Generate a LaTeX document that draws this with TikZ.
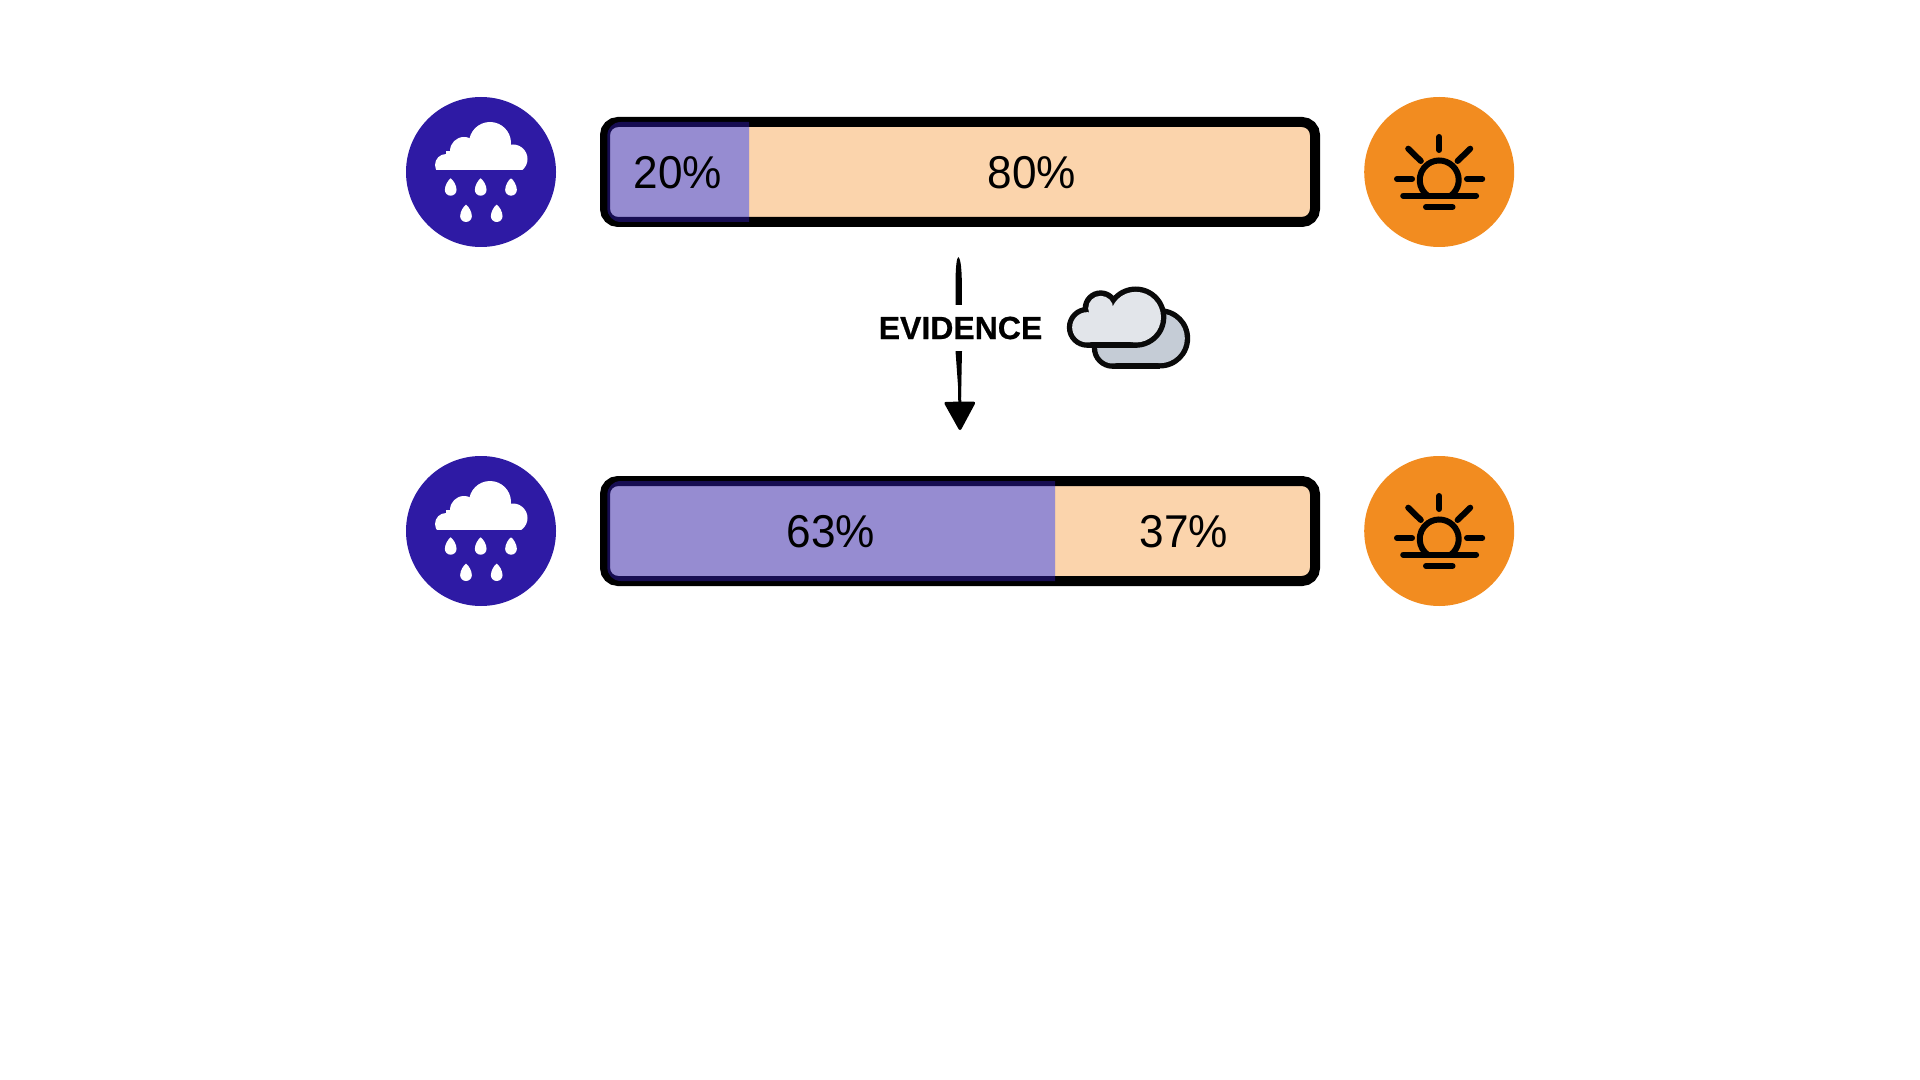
\documentclass[tikz,border=0pt]{standalone}
\usepackage{fontspec}
\setmainfont{Liberation Sans}
\newfontfamily\pctfont[FakeStretch=0.96]{Liberation Sans}
\newfontfamily\evfont[UprightFont=* Bold,FakeBold=0.6]{Liberation Sans}
\usetikzlibrary{arrows.meta}
\definecolor{rainblue}{HTML}{2E1AA4}
\definecolor{sunorange}{HTML}{F28C20}
\definecolor{barpeach}{HTML}{FBD4AC}
\definecolor{cloudfront}{HTML}{E2E5EA}
\definecolor{cloudback}{HTML}{C5CCD6}
\definecolor{cloudline}{HTML}{0A0A0A}
\newcommand{\rdrop}[2]{\fill[white,shift={(#1,#2)}] (0,-8.7) .. controls (2.6,-7) and (5.85,-1.5) .. (5.85,2.9) .. controls (5.85,6.1) and (3.2,8.7) .. (0,8.7) .. controls (-3.2,8.7) and (-5.85,6.1) .. (-5.85,2.9) .. controls (-5.85,-1.5) and (-2.6,-7) .. (0,-8.7) -- cycle;}
\tikzset{
  x=0.5pt,y=-0.5pt,
  badge/.style={circle,minimum size=75pt,inner sep=0pt,draw=none},
  rainbadge/.style={badge,fill=rainblue},
  sunbadge/.style={badge,fill=sunorange},
  barframe/.style={draw=black,line width=5pt,rounded corners=6.5pt},
  purpleseg/.style={fill=rainblue,fill opacity=0.5},
  peachseg/.style={fill=barpeach},
  pct/.style={font=\pctfont\fontsize{23}{28}\selectfont,text=black,inner sep=0pt},
  sunline/.style={draw=black,line width=3pt,line cap=round},
  rainicon/.pic={
    \begin{scope}
      \clip (-60,-60) rectangle (60,-2);
      \fill[white] (-35,-7) circle[radius=11];
      \fill[white] (-17,-21) circle[radius=14];
      \fill[white] (9,-29) circle[radius=21];
      \fill[white] (32,-13) circle[radius=14.5];
      \fill[white] (-35,-21) rectangle (32,0);
    \end{scope}
    \rdrop{-30.3}{15}\rdrop{-0.3}{15}\rdrop{30}{15}\rdrop{-15}{41.3}\rdrop{15.7}{41.3}
  },
  sunicon/.pic={
    \draw[sunline,line cap=butt] (0,8) ++(55:19.5) arc[start angle=55,end angle=-235,radius=19.5];
    \draw[sunline] (0,-35) -- (0,-22);
    \draw[sunline] (-31,-23.3) -- (-18.4,-11);
    \draw[sunline] (31,-23.3) -- (18.4,-11);
    \draw[sunline] (-42.2,7) -- (-27.2,7);
    \draw[sunline] (27.8,7) -- (43,7);
    \draw[sunline] (-36,23.7) -- (36.9,23.7);
    \draw[sunline] (-13.2,35) -- (13.3,35);
  },
}
\begin{document}
\begin{tikzpicture}
\useasboundingbox (0,0) rectangle (1920,1080);
\fill[white] (0,0) rectangle (1920,1080);

% top row
\node[rainbadge] (rainA) at (481,172) {};
\pic at (rainA.center) {rainicon};
\node[sunbadge] (sunA) at (1439.2,172) {};
\pic at (sunA.center) {sunicon};
\fill[peachseg] (749,122) rectangle (1315,222);
\fill[white] (605,122) rectangle (749,222);
\node[barframe,minimum width=355pt,minimum height=50pt,inner sep=0pt] (barA) at (960,172) {};
\fill[purpleseg] (749,122) -- (621,122) .. controls (613,122) and (607.3,128) .. (607.3,136) -- (607.3,208) .. controls (607.3,216) and (613,222) .. (621,222) -- (749,222) -- cycle;
\node[pct] (pctA) at (678,172.5) {20\%};
\node[pct] (pctB) at (1032,172.5) {80\%};

% bottom row
\node[rainbadge] (rainB) at (481,531) {};
\pic at (rainB.center) {rainicon};
\node[sunbadge] (sunB) at (1439.2,531) {};
\pic at (sunB.center) {sunicon};
\fill[peachseg] (1055,481) rectangle (1315,581);
\fill[white] (605,481) rectangle (1055,581);
\node[barframe,minimum width=355pt,minimum height=50pt,inner sep=0pt] (barB) at (960,531) {};
\fill[purpleseg] (1055,481) -- (621,481) .. controls (613,481) and (607.3,487) .. (607.3,495) -- (607.3,567) .. controls (607.3,575) and (613,581) .. (621,581) -- (1055,581) -- cycle;
\node[pct] (pctC) at (831,531.5) {63\%};
\node[pct] (pctD) at (1184,531.5) {37\%};

% arrow
\coordinate (arrowtop) at (958.5,262);
\coordinate (arrowtip) at (960,430);
\draw[line width=1.5pt,-{Triangle[width=16pt,length=15pt,round]}] (arrowtop) -- (arrowtip);
\fill[black] (958.3,257) .. controls (960,258) and (961.5,265) .. (961.8,280) -- (962,351) -- (961,397) -- (958.8,397) -- (955.5,351) -- (955.5,280) .. controls (955.8,265) and (956.8,258) .. (958.3,257) -- cycle;
\node[fill=white,inner xsep=0pt,minimum height=23pt,font=\evfont\fontsize{16}{20}\selectfont] (evidence) at (960.5,328) {EVIDENCE};

% clouds
\begin{scope}[shift={(860,240)},scale=1/3]
  \fill[cloudline] (900,295) circle[radius=90.5];
  \fill[cloudline] (758,324) circle[radius=62.5];
  \fill[cloudline] (758,220) rectangle (900,386);
  \fill[cloudback] (900,295) circle[radius=74.5];
  \fill[cloudback] (758,324) circle[radius=46.5];
  \fill[cloudback] (758,290) rectangle (900,369.5);
  \fill[cloudback] (800,230) rectangle (900,369.5);
  \fill[cloudline] (682,262) circle[radius=61.5];
  \fill[cloudline] (722,205) circle[radius=54];
  \fill[cloudline] (827,231.5) circle[radius=92];
  \fill[cloudline] (682,210) rectangle (827,323.5);
  \fill[cloudfront] (682,262) circle[radius=45.5];
  \fill[cloudfront] (722,205) circle[radius=37.5];
  \fill[cloudfront] (827,231.5) circle[radius=76];
  \fill[cloudfront] (682,225) rectangle (827,307.5);
\end{scope}
\end{tikzpicture}
\end{document}
